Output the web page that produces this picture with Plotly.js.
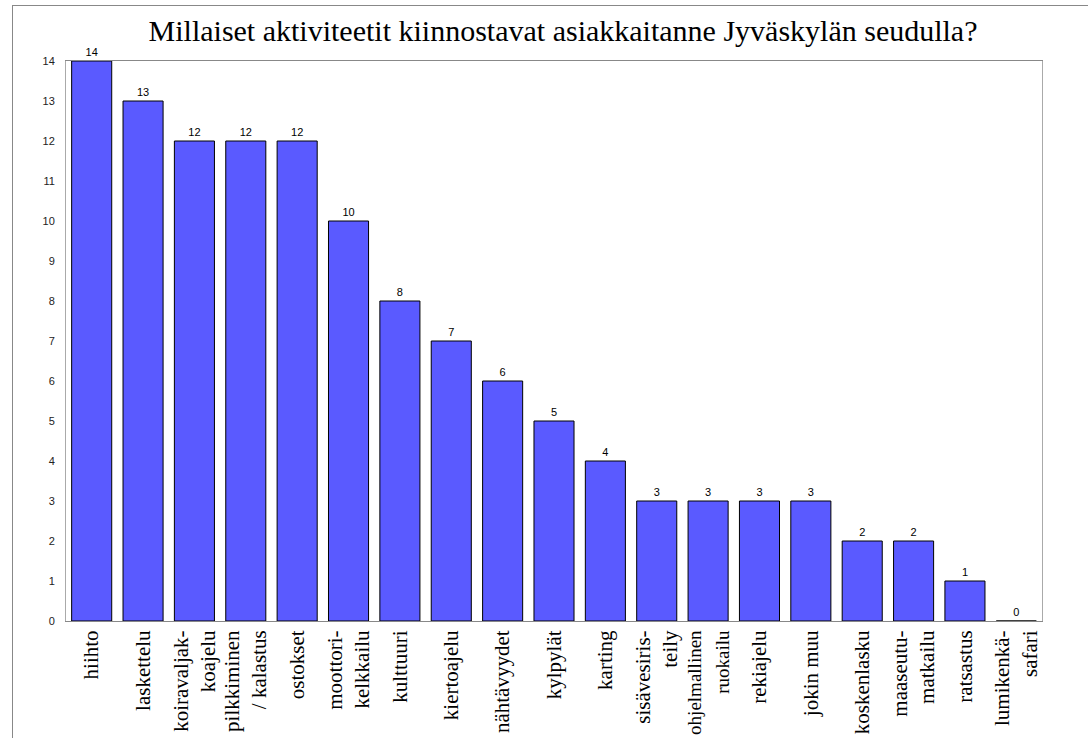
<!DOCTYPE html>
<html>
<head>
<meta charset="utf-8">
<script src="https://cdn.plot.ly/plotly-3.0.1.min.js"></script>
<style>
html, body { margin: 0; padding: 0; background: #fff; }
#frame { position: absolute; left: 12px; top: 5px; width: 1076px; height: 733px; border-left: 1px solid #888; border-top: 1px solid #888; box-sizing: border-box; }
#chart { position: absolute; left: 0; top: 0; width: 1088px; height: 738px; }
</style>
</head>
<body>
<div id="frame"></div>
<div id="chart"></div>
<script>
const categories = [
  "hiihto", "laskettelu", "koiravaljak-<br>koajelu", "pilkkiminen<br>/ kalastus", "ostokset",
  "moottori-<br>kelkkailu", "kulttuuri", "kiertoajelu", "nähtävyydet", "kylpylät",
  "karting", "sisävesiris-<br>teily", "ohjelmallinen<br>ruokailu", "rekiajelu", "jokin muu",
  "koskenlasku", "maaseutu-<br>matkailu", "ratsastus", "lumikenkä-<br>safari"
];
const counts = [14, 13, 12, 12, 12, 10, 8, 7, 6, 5, 4, 3, 3, 3, 3, 2, 2, 1, 0];
const yTicks = [0, 1, 2, 3, 4, 5, 6, 7, 8, 9, 10, 11, 12, 13, 14];
const chartTitle = "Millaiset aktiviteetit kiinnostavat asiakkaitanne Jyväskylän seudulla?";

const SERIF = "'Liberation Serif', 'Times New Roman', serif";
const SANS = "'Liberation Sans', Arial, sans-serif";

// Shrink only labels whose longest line would run past the bottom edge
const xTickText = categories.map(function (c) {
  const longest = Math.max.apply(null, c.split("<br>").map(function (s) { return s.length; }));
  return longest > 12 ? '<span style="font-size:19px">' + c + '</span>' : c;
});

const trace = {
  type: "bar",
  x: categories,
  y: counts,
  text: counts.map(String),
  textposition: "outside",
  cliponaxis: false,
  textfont: { family: SANS, size: 11, color: "#000" },
  marker: { color: "#5a5aff", line: { color: "#000", width: 1 } },
  hoverinfo: "y"
};

const layout = {
  width: 1088,
  height: 738,
  paper_bgcolor: "rgba(0,0,0,0)",
  plot_bgcolor: "#fff",
  margin: { l: 66, r: 46, t: 61, b: 117 },
  bargap: 0.22,
  showlegend: false,
  title: {
    text: chartTitle,
    font: { family: SERIF, size: 30, color: "#000" },
    x: 0.5175, xanchor: "center", xref: "container",
    y: 0.958, yanchor: "middle", yref: "container"
  },
  xaxis: {
    type: "category",
    tickangle: -90,
    tickvals: categories,
    ticktext: xTickText,
    tickfont: { family: SERIF, size: 21, color: "#000" },
    showline: true, linecolor: "#888", linewidth: 1, mirror: true,
    ticks: "", showgrid: false, automargin: false
  },
  yaxis: {
    range: [0, 14],
    tickvals: yTicks,
    ticktext: yTicks.map(String),
    tickfont: { family: SANS, size: 11, color: "#222" },
    ticklabelstandoff: 8,
    showline: true, linecolor: "#aaa", linewidth: 1, mirror: true,
    ticks: "", showgrid: false, zeroline: false, automargin: false
  }
};

Plotly.newPlot("chart", [trace], layout, { displayModeBar: false });
</script>
</body>
</html>
